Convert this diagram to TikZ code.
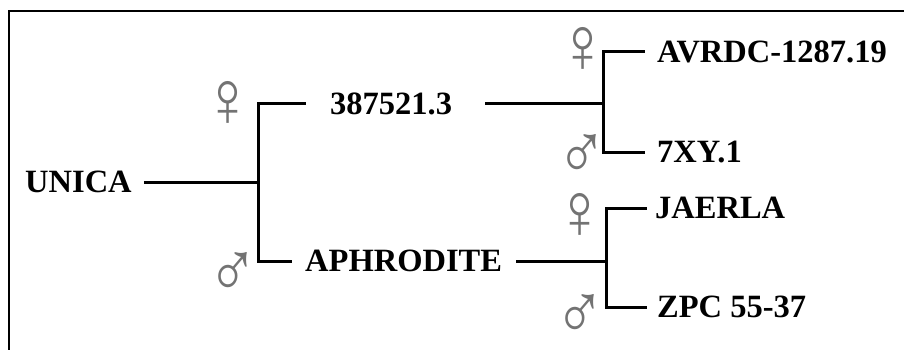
\documentclass[tikz,border=0pt]{standalone}
\usepackage{fontspec}
\setmainfont{Liberation Serif}
\begin{document}
\begin{tikzpicture}[x=1pt, y=-1pt,
    line/.style={line width=3pt},
    cross/.style={anchor=west, inner sep=0pt, text height=21pt, text depth=0pt,
        font=\fontsize{32.5}{32}\selectfont\bfseries},
    sex/.style={inner sep=0pt, text=black!55, xscale=0.85, font=\fontsize{80}{80}\selectfont}]
\useasboundingbox (0,0) rectangle (904,350);
\draw[line width=2pt] (9,360) -- (9,11) -- (920,11);
% parents and offspring
\node[cross] (unica) at (25,182) {UNICA};
\node[cross] (pi) at (330,104) {387521.3};
\node[cross] (aphro) at (305,261) {APHRODITE};
\node[cross] (avrdc) at (657,52) {AVRDC-1287.19};
\node[cross] (sevxy) at (657,152) {7XY.1};
\node[cross] (jaerla) at (655,208) {JAERLA};
\node[cross] (zpc) at (657,307) {ZPC 55-37};
% junctions
\coordinate (junica) at (258,182);
\coordinate (jpi) at (603,104);
\coordinate (japhro) at (606,261);
\draw[line] ([xshift=12pt]unica.east) -- (junica);
\draw[line] (junica) |- ([xshift=-24pt]pi.west);
\draw[line] (junica) |- ([xshift=-13pt]aphro.west);
\draw[line] ([xshift=33pt]pi.east) -- (jpi);
\draw[line] (jpi) |- ([xshift=-12pt]avrdc.west);
\draw[line] (jpi) |- ([xshift=-12pt]sevxy.west);
\draw[line] ([xshift=14pt]aphro.east) -- (japhro);
\draw[line] (japhro) |- ([xshift=-8pt]jaerla.west);
\draw[line] (japhro) |- ([xshift=-10pt]zpc.west);
% female and male signs
\node[sex] (fpi) at (228,104) {♀};
\node[sex] (maphro) at (233,275) {♂};
\node[sex] (favrdc) at (583,50) {♀};
\node[sex] (msevxy) at (582,157) {♂};
\node[sex] (fjaerla) at (580,216) {♀};
\node[sex] (mzpc) at (580,317) {♂};
\end{tikzpicture}
\end{document}
